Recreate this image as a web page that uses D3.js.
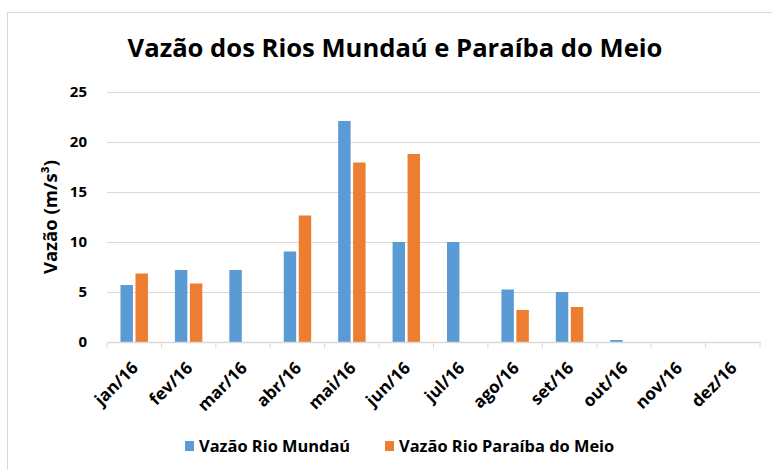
<!DOCTYPE html>
<html>
<head>
<meta charset="utf-8">
<script src="https://cdn.jsdelivr.net/npm/d3@7"></script>
<style>
  body { margin: 0; background: #fff; }
  svg { display: block; font-family: "Open Sans", Lato, sans-serif; }
</style>
</head>
<body>
<svg id="chart"></svg>
<script>
const months = ["jan/16", "fev/16", "mar/16", "abr/16", "mai/16", "jun/16", "jul/16", "ago/16", "set/16", "out/16", "nov/16", "dez/16"];
const mundau = [5.7, 7.2, 7.2, 9.05, 22.1, 10.0, 10.0, 5.25, 5.0, 0.2, 0, 0];
const paraiba = [6.85, 5.85, 0, 12.65, 17.95, 18.8, 0, 3.2, 3.5, 0, 0, 0];
const seriesNames = ["Vazão Rio Mundaú", "Vazão Rio Paraíba do Meio"];
const colors = ["#5b9bd5", "#ed7d31"];
const yTicks = [0, 5, 10, 15, 20, 25];

const width = 772;
const height = 470;
const plotLeft = 107, plotRight = 760, plotTop = 92, plotBottom = 342;

const svg = d3.select("#chart")
    .attr("width", width)
    .attr("height", height);

// chart border
svg.append("rect")
    .attr("x", 7.5).attr("y", 12.5)
    .attr("width", 800).attr("height", 500)
    .attr("fill", "#fff")
    .attr("stroke", "#d9d9d9");

svg.append("text")
    .attr("x", 395).attr("y", 57)
    .attr("text-anchor", "middle")
    .attr("font-size", 25.6)
    .attr("font-weight", "bold")
    .attr("fill", "#000")
    .text("Vazão dos Rios Mundaú e Paraíba do Meio");

const x = d3.scaleBand().domain(months).range([plotLeft, plotRight]);
const xSub = d3.scaleBand().domain([0, 1]).range([0, x.bandwidth()])
    .paddingInner(0.17).paddingOuter(0.9);
const y = d3.scaleLinear().domain([0, 25]).range([plotBottom, plotTop]);

const yAxis = svg.append("g")
    .attr("transform", `translate(${plotLeft},0)`)
    .call(d3.axisLeft(y).tickValues(yTicks).tickSize(-(plotRight - plotLeft)).tickPadding(20));
yAxis.select(".domain").remove();
yAxis.selectAll(".tick line").attr("stroke", "#d9d9d9");
yAxis.selectAll(".tick text")
    .attr("font-size", 15).attr("font-weight", "bold").attr("fill", "#000")
    .attr("font-family", "'Open Sans', sans-serif");

svg.append("text")
    .attr("transform", `translate(57,${(plotTop + plotBottom) / 2}) rotate(-90)`)
    .attr("text-anchor", "middle")
    .attr("font-size", 18.5)
    .attr("font-weight", "bold")
    .text("Vazão (m/s³)");

// bars
const rows = months.map((m, i) => ({ m, v: [mundau[i], paraiba[i]] }));
const groups = svg.append("g").selectAll("g")
    .data(rows).enter().append("g")
    .attr("transform", d => `translate(${x(d.m)},0)`);
groups.selectAll("rect")
    .data(d => d.v.map((v, k) => ({ v, k })))
    .enter().append("rect")
    .attr("x", d => xSub(d.k))
    .attr("width", xSub.bandwidth())
    .attr("y", d => y(d.v))
    .attr("height", d => y(0) - y(d.v))
    .attr("fill", d => colors[d.k]);

// x axis
const xAxis = svg.append("g")
    .attr("transform", `translate(0,${plotBottom})`)
    .call(d3.axisBottom(x).tickSize(0).tickPadding(0));
xAxis.select(".domain").attr("stroke", "#d9d9d9").attr("stroke-width", 1.3);
xAxis.selectAll(".tick text")
    .attr("font-size", 17).attr("font-weight", "bold").attr("fill", "#000")
    .attr("font-family", "'Open Sans', sans-serif")
    .attr("text-anchor", "end")
    .attr("dy", null)
    .attr("transform", "translate(5,27) rotate(-45)");

const bounds = months.map(m => x(m)).concat([plotRight]);
svg.append("g").selectAll("line")
    .data(bounds).enter().append("line")
    .attr("x1", d => d).attr("x2", d => d)
    .attr("y1", plotBottom).attr("y2", plotBottom + 6)
    .attr("stroke", "#d9d9d9");

// legend
const legendX = [185, 385];
const legend = svg.append("g").selectAll("g")
    .data(seriesNames).enter().append("g")
    .attr("transform", (d, i) => `translate(${legendX[i]},441)`);
legend.append("rect")
    .attr("width", 9).attr("height", 10)
    .attr("fill", (d, i) => colors[i]);
legend.append("text")
    .attr("x", 14).attr("y", 10.5)
    .attr("font-size", 16.4)
    .attr("font-weight", "bold")
    .text(d => d);
</script>
</body>
</html>
